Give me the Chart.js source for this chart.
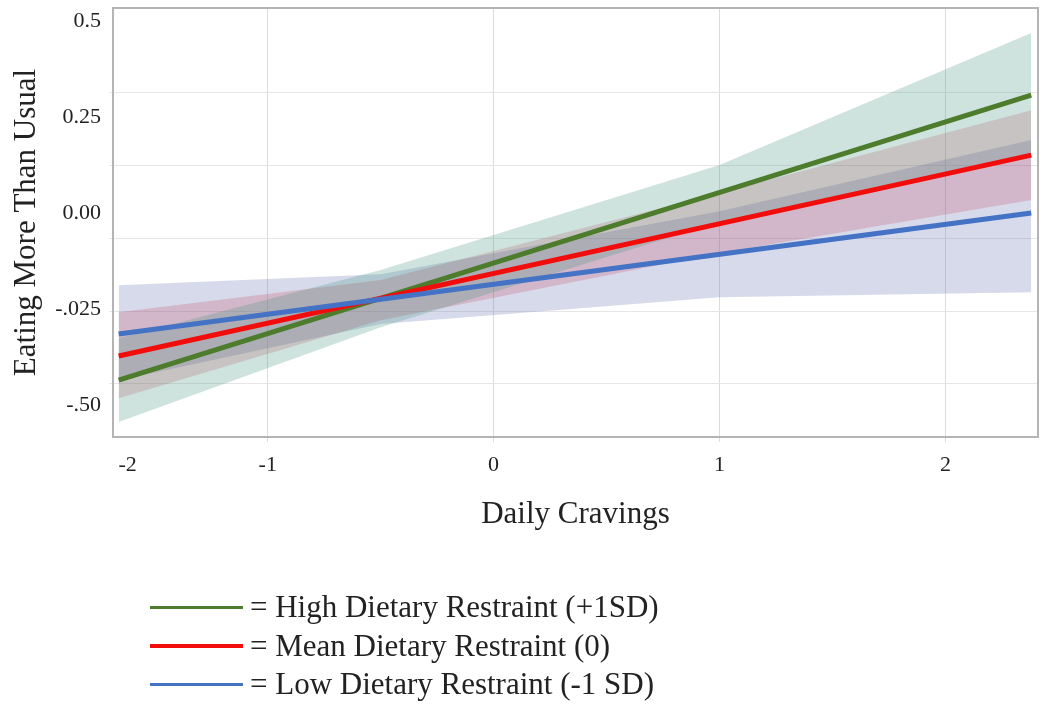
<!DOCTYPE html>
<html>
<head>
<meta charset="utf-8">
<title>Daily Cravings x Dietary Restraint</title>
<script src="https://cdn.jsdelivr.net/npm/chart.js@4.4.1/dist/chart.umd.min.js"></script>
<style>
body { margin: 0; background: #fff; }
#wrap { position: relative; width: 1050px; height: 706px; }
#plot { width: 1050px; height: 706px; }
#legend { position: absolute; left: 150px; top: 588px; font-family: 'Liberation Serif', 'Times New Roman', serif; font-size: 31px; color: #222; }
.item { display: flex; align-items: center; height: 38.5px; white-space: nowrap; }
.swatch { width: 93px; height: 3.5px; margin-right: 7px; }
</style>
</head>
<body>
<div id="wrap">
<canvas id="plot" width="1050" height="706"></canvas>
<div id="legend"></div>
</div>
<script>
// values
const seriesLabels = ['High Dietary Restraint (+1SD)', 'Mean Dietary Restraint (0)', 'Low Dietary Restraint (-1 SD)'];
const lineColors = ['#4d7c2c', '#f20d0d', '#4472c4'];
const bandColors = ['rgba(75,150,131,0.27)', 'rgba(200,55,80,0.22)', 'rgba(91,107,175,0.25)'];

const xEnds = [-1.66, 2.38];
const highLine = [-0.435, 0.307];
const meanLine = [-0.372, 0.151];
const lowLine = [-0.315, 0.0];

const bandX = [-1.66, -0.5, 1.0, 2.38];
const highUpper = [-0.326, -0.148, 0.125, 0.469];
const highLower = [-0.544, -0.297, -0.023, 0.146];
const meanUpper = [-0.258, -0.174, 0.052, 0.268];
const meanLower = [-0.482, -0.279, -0.104, 0.034];
const lowUpper = [-0.188, -0.159, 0.005, 0.190];
const lowLower = [-0.435, -0.289, -0.219, -0.206];

const xTickVals = [-1.62, -1, 0, 1, 2];
const xTickLabels = ['-2', '-1', '0', '1', '2'];
const yTickVals = [0.5, 0.25, 0, -0.25, -0.5];
const yTickLabels = ['0.5', '0.25', '0.00', '-.025', '-.50'];
const yGridVals = [0.315, 0.125, -0.065, -0.255, -0.445];

const xMin = -1.685, xMax = 2.41;
const yMin = -0.583, yMax = 0.534;

Chart.defaults.font.family = "'Liberation Serif', 'Times New Roman', serif";
Chart.defaults.color = '#222';

function pts(xs, ys) {
  return xs.map((x, i) => ({x: x, y: ys[i]}));
}

function lineSet(i, ys, order) {
  return {
    label: seriesLabels[i],
    data: pts(xEnds, ys),
    borderColor: lineColors[i],
    borderWidth: 5,
    pointRadius: 0,
    fill: false,
    order: order
  };
}

function bandSet(i, ys, isUpper) {
  return {
    label: seriesLabels[i] + (isUpper ? ' upper' : ' lower'),
    data: pts(bandX, ys),
    borderColor: 'rgba(0,0,0,0)',
    borderWidth: 0,
    backgroundColor: bandColors[i],
    pointRadius: 0,
    fill: isUpper ? '+1' : false,
    order: 5
  };
}

// keep tick labels from pushing the plot area in
function noPad(s) {
  s.paddingTop = 0;
  s.paddingBottom = 0;
  s.paddingLeft = 0;
  s.paddingRight = 0;
}

const frame = {
  id: 'frame',
  afterDatasetsDraw(chart) {
    const c = chart.ctx, a = chart.chartArea;
    c.save();
    c.strokeStyle = '#b4b4b4';
    c.lineWidth = 2;
    c.strokeRect(a.left, a.top, a.right - a.left, a.bottom - a.top);
    c.restore();
  }
};

let ctx = document.getElementById('plot').getContext('2d');

let chart = new Chart(ctx, {
  type: 'line',
  data: {
    datasets: [
      lineSet(0, highLine, 2),
      lineSet(1, meanLine, 1),
      lineSet(2, lowLine, 0),
      bandSet(0, highUpper, true),
      bandSet(0, highLower, false),
      bandSet(1, meanUpper, true),
      bandSet(1, meanLower, false),
      bandSet(2, lowUpper, true),
      bandSet(2, lowLower, false)
    ]
  },
  options: {
    responsive: false,
    animation: false,
    layout: { padding: { top: 8, right: 12, left: 0, bottom: 0 } },
    plugins: {
      legend: { display: false },
      tooltip: { enabled: false }
    },
    scales: {
      x: {
        type: 'linear',
        min: xMin,
        max: xMax,
        afterBuildTicks: s => { s.ticks = xTickVals.map(v => ({value: v})); },
        ticks: {
          autoSkip: false,
          maxRotation: 0,
          padding: 10,
          font: { size: 22 },
          callback: (v, i) => xTickLabels[i]
        },
        grid: {
          color: c => c.index === 0 ? 'rgba(0,0,0,0)' : '#dcdcdc',
          tickLength: 5
        },
        border: { display: false },
        title: {
          display: true,
          text: 'Daily Cravings',
          font: { size: 31 },
          padding: { top: 0, bottom: 173 }
        },
        afterFit: s => { s.height = 269; noPad(s); }
      },
      y: {
        position: 'left',
        weight: 1,
        min: yMin,
        max: yMax,
        afterBuildTicks: s => { s.ticks = yTickVals.map(v => ({value: v})); },
        ticks: {
          autoSkip: false,
          padding: 8,
          font: { size: 22 },
          callback: (v, i) => yTickLabels[i]
        },
        grid: { display: false, drawTicks: false },
        border: { display: false },
        title: {
          display: true,
          text: 'Eating More Than Usual',
          font: { size: 31 },
          padding: { top: 8, bottom: 0 }
        },
        afterFit: s => { s.width = 109; noPad(s); }
      },
      yGrid: {
        position: 'left',
        weight: 0,
        min: yMin,
        max: yMax,
        afterBuildTicks: s => { s.ticks = yGridVals.map(v => ({value: v})); },
        ticks: { display: false },
        grid: { color: '#e6e6e6', tickLength: 4 },
        border: { display: false },
        afterFit: s => { s.width = 4; noPad(s); }
      }
    }
  },
  plugins: [frame]
});

// legend: one row per line, "= label"
const legend = document.getElementById('legend');
chart.data.datasets.slice(0, 3).forEach(ds => {
  const row = document.createElement('div');
  row.className = 'item';
  const sw = document.createElement('span');
  sw.className = 'swatch';
  sw.style.background = ds.borderColor;
  const txt = document.createElement('span');
  txt.textContent = '= ' + ds.label;
  row.appendChild(sw);
  row.appendChild(txt);
  legend.appendChild(row);
});
</script>
</body>
</html>
